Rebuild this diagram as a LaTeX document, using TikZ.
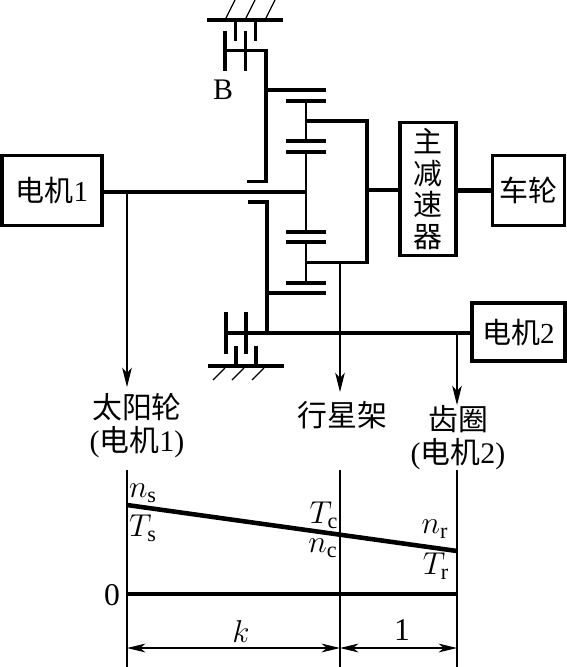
\documentclass[tikz,border=0pt]{standalone}
\usepackage{amsmath}
\usepackage{fix-cm}
\usepackage{fontspec}
\setmainfont{Liberation Serif}
\newfontfamily\cjk{Noto Sans CJK SC}
\usepackage{xcolor}
\usetikzlibrary{arrows.meta,positioning}
\newcommand{\hz}[1]{{\cjk #1}}
\tikzset{
	shaft/.style={line width=2.6pt},
	gear/.style={line width=2pt},
	thin line/.style={line width=0.7pt},
	box/.style={draw,line width=2pt,inner sep=0pt,align=center,font=\fontsize{16.5}{18.5}\selectfont},
	label/.style={inner sep=0pt,align=center,font=\fontsize{17}{18.7}\selectfont},
	sym/.style={inner sep=0pt,font=\fontsize{18}{20}\selectfont},
	flow/.style={thin line,-{Stealth[length=11pt,width=5.5pt,inset=3pt]}},
	dim/.style={thin line,{Stealth[length=10.5pt,width=5pt,inset=3pt]}-{Stealth[length=10.5pt,width=5pt,inset=3pt]}}
}
\begin{document}
\begin{tikzpicture}[x=0.02cm,y=-0.02cm]
	\useasboundingbox (0,0) rectangle (567,667);
	
	\node[box,minimum width=100*0.02cm,minimum height=70*0.02cm] (motora) at (52,190.7) {\hz{电机}1};
	\node[box,minimum width=56*0.02cm,minimum height=133*0.02cm] (reducer) at (428,189.2) {\hz{主}\\[-0.6pt]\hz{减}\\[-0.6pt]\hz{速}\\[-0.6pt]\hz{器}};
	\node[box,minimum width=72*0.02cm,minimum height=70*0.02cm] (wheel) at (528.5,190.7) {\hz{车轮}};
	\node[box,minimum width=93*0.02cm,minimum height=58*0.02cm] (motorb) at (518.3,332) {\hz{电机}2};
	
	\coordinate (sunhub) at (306,192);
	\coordinate (sunarm) at (127,192);
	\coordinate (ringhub) at (226,333);
	\coordinate (ringarm) at (457,333);
	\coordinate (carrierout) at (367,190);
	\coordinate (carrierarm) at (340,262.5);
	\coordinate (sunend) at (127,387);
	\coordinate (carrierend) at (340,392);
	\coordinate (ringend) at (457,405);
	
	\draw[shaft] (motora.east |- sunhub) -- (sunhub);
	\draw[shaft] (ringhub) -- (motorb.west |- ringhub);
	\draw[shaft] (carrierout) -- (reducer.west |- carrierout);
	\draw[shaft] (reducer.east |- wheel.west) -- (wheel.west);
	
	\draw[gear] (207,20) -- (283,20);
	\draw[thin line] (226,18) -- (235,0);
	\draw[thin line] (246,18) -- (255,0);
	\draw[thin line] (266,18) -- (275,0);
	\draw[gear] (235.5,20) -- (235.5,41);
	\draw[gear] (255.5,20) -- (255.5,41);
	\draw[gear] (225,31) -- (225,71);
	\draw[gear] (245.5,31) -- (245.5,71);
	\draw[gear] (225,50.5) -- (266,50.5) -- (266,181.5) -- (247,181.5);
	\draw[gear] (266,90) -- (326,90);
	\node[label] (brake) at (223,90) {B};
	
	\draw[gear] (286,101) -- (326,101);
	\draw[gear] (286,141) -- (326,141);
	\draw[gear] (286,152) -- (326,152);
	\draw[gear] (286,232) -- (326,232);
	\draw[gear] (286,242) -- (326,242);
	\draw[gear] (286,283) -- (326,283);
	\draw[line width=1.5pt] (306,101) -- (306,141);
	\draw[line width=1.5pt] (306,152) -- (306,232);
	\draw[line width=1.5pt] (306,242) -- (306,283);
	\draw[gear] (306,121) -- (367,121) -- (367,262.5) -- (306,262.5);
	
	\draw[gear] (248,202) -- (267,202) -- (267,333);
	\draw[gear] (267,293) -- (326,293);
	\draw[gear] (226,312) -- (226,354);
	\draw[gear] (246,312) -- (246,354);
	\draw[gear] (236,346) -- (236,366);
	\draw[gear] (256,346) -- (256,366);
	\draw[gear] (208,366) -- (284,366);
	\draw[thin line] (225,368) -- (213,380);
	\draw[thin line] (244,368) -- (232,380);
	\draw[thin line] (264,368) -- (252,380);
	
	\draw[flow] (sunarm) -- (sunend);
	\draw[flow] (carrierarm) -- (carrierend);
	\draw[flow] (ringarm) -- (ringend);
	
	\node[label] (sunlabel) at (137,425.5) {\hz{太阳轮}\\(\hz{电机}1)};
	\node[label] (carrierlabel) at (342.5,415) {\hz{行星架}};
	\node[label] (ringlabel) at (458,438) {\hz{齿圈}\\(\hz{电机}2)};
	
	\coordinate (stop) at (127,470);
	\coordinate (sbot) at (127,667);
	\coordinate (ctop) at (340,470);
	\coordinate (cbot) at (340,667);
	\coordinate (rtop) at (457,470);
	\coordinate (rbot) at (457,667);
	\coordinate (sspeed) at (127,505);
	\coordinate (rspeed) at (457,551);
	\coordinate (szero) at (127,594);
	\coordinate (rzero) at (457,594);
	\coordinate (sdim) at (127,648);
	\coordinate (cdim) at (340,648);
	\coordinate (rdim) at (457,648);
	
	\draw[thin line] (stop) -- (sbot);
	\draw[thin line] (ctop) -- (cbot);
	\draw[thin line] (rtop) -- (rbot);
	\draw[shaft] (sspeed) -- (rspeed);
	\draw[shaft] (szero) -- (rzero);
	\draw[dim] (sdim) -- (cdim);
	\draw[dim] (cdim) -- (rdim);
	
	\node[sym] (ns) at (143,493) {$n_{\mathrm{s}}$};
	\node[sym] (Ts) at (143,528) {$T_{\mathrm{s}}$};
	\node[sym] (Tc) at (324,515) {$T_{\mathrm{c}}$};
	\node[sym] (nc) at (323,548) {$n_{\mathrm{c}}$};
	\node[sym] (nr) at (435,529) {$n_{\mathrm{r}}$};
	\node[sym] (Tr) at (436,566) {$T_{\mathrm{r}}$};
	\node[sym] (zero) at (112,595) {0};
	\node[sym] (k) at (241,632) {$k$};
	\node[sym] (one) at (402,630) {1};
\end{tikzpicture}
\end{document}
